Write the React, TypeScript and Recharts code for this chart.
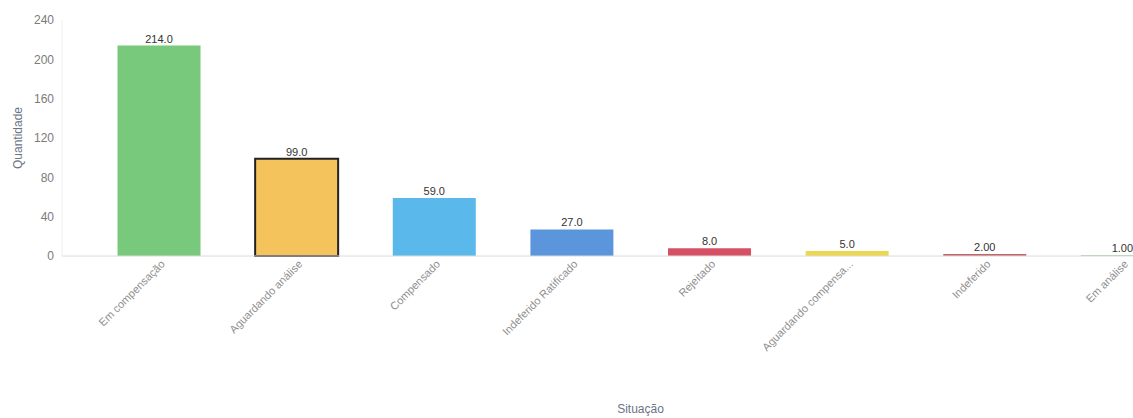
import React from 'react';
import { BarChart, Bar, XAxis, YAxis, Cell, LabelList } from 'recharts';

const categories = [
  'Em compensação',
  'Aguardando análise',
  'Compensado',
  'Indeferido Ratificado',
  'Rejeitado',
  'Aguardando compensa...',
  'Indeferido',
  'Em análise',
];
const quantities = [214, 99, 59, 27, 8, 5, 2, 1];
const valueLabels = ['214.0', '99.0', '59.0', '27.0', '8.0', '5.0', '2.00', '1.00'];
const barColors = ['#78c97c', '#f5c35c', '#5bb8ea', '#5b96dd', '#d65064', '#ecd84e', '#c2636c', '#9ed3a0'];
const yTicks = [0, 40, 80, 120, 160, 200, 240];

const data = categories.map((name, i) => ({
  name,
  value: quantities[i],
  label: valueLabels[i],
}));

const FONT = '"Liberation Sans", Arial, sans-serif';

// rotated category label, text ends just right of the band centre
const AngledTick = (props: any) => {
  const { x, y, payload } = props;
  return (
    <g transform={`translate(${x + 4},${y - 2})`}>
      <text
        x={0}
        y={0}
        dy="0.35em"
        textAnchor="end"
        transform="rotate(-45)"
        fill="#8f8f8f"
        fontSize={11}
        fontFamily={FONT}
      >
        {payload.value}
      </text>
    </g>
  );
};

export default function App() {
  return (
    <div style={{ width: 1133, height: 418, overflow: 'hidden', background: '#fff' }}>
      <style>{'body{margin:0}'}</style>
      <BarChart
        width={1200}
        height={418}
        data={data}
        margin={{ top: 20, right: 9, left: 0, bottom: 0 }}
        barCategoryGap="20%"
      >
        <XAxis
          dataKey="name"
          interval={0}
          height={162}
          padding={{ left: 28, right: 0 }}
          tickLine={false}
          axisLine={{ stroke: '#dcdcdc' }}
          tick={<AngledTick />}
          label={{
            value: 'Situação',
            position: 'insideBottom',
            offset: 5,
            dx: 14,
            fill: '#6b7385',
            fontSize: 12,
            fontFamily: FONT,
          }}
        />
        <YAxis
          width={62}
          domain={[0, 240]}
          ticks={yTicks}
          tickLine={false}
          axisLine={{ stroke: '#efefef' }}
          tick={{ fill: '#7a7a7a', fontSize: 12, fontFamily: FONT }}
          label={{
            value: 'Quantidade',
            angle: -90,
            position: 'insideLeft',
            offset: 18,
            fill: '#6b7385',
            fontSize: 12,
            fontFamily: FONT,
            style: { textAnchor: 'middle' },
          }}
        />
        <Bar dataKey="value" isAnimationActive={false}>
          {data.map((d, i) => (
            <Cell
              key={d.name}
              fill={barColors[i]}
              stroke={i === 1 ? '#222' : 'none'}
              strokeWidth={i === 1 ? 2 : 0}
            />
          ))}
          <LabelList
            dataKey="label"
            position="top"
            offset={3}
            fill="#333"
            fontSize={11}
            fontFamily={FONT}
          />
        </Bar>
      </BarChart>
    </div>
  );
}
